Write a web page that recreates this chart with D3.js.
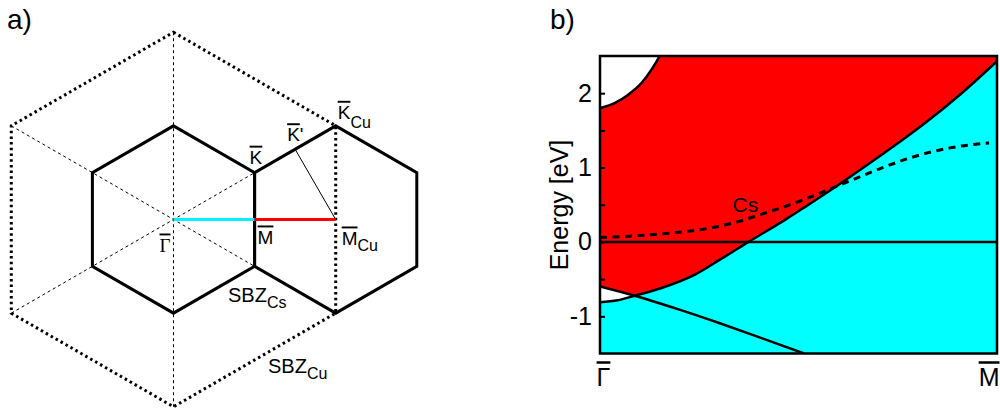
<!DOCTYPE html>
<meta charset="utf-8">
<style>
  body { margin: 0; background: #fff; }
  svg text { font-family: "Liberation Sans", Arial, sans-serif; fill: #000; }
  .ov { text-decoration: overline; }
  .serif { font-family: "Liberation Serif", "DejaVu Serif", serif; }
</style>
<svg width="1000" height="413"></svg>
<script src="https://cdnjs.cloudflare.com/ajax/libs/d3/7.8.5/d3.min.js"></script>
<script>

// ---- panel a) : surface Brillouin zones, units of |Gamma-M| of the Cs zone
var csZone  = [[0, 1.155], [1, 0.577], [1, -0.577], [0, -1.155], [-1, -0.577], [-1, 0.577]];
var csZone2 = [[2, 1.155], [3, 0.577], [3, -0.577], [2, -1.155], [1, -0.577], [1, 0.577]];
var cuZone  = [[0, 2.309], [2, 1.155], [2, -1.155], [0, -2.309], [-2, -1.155], [-2, 1.155]];
var cuDiagonals = [
  [[0, 2.309], [0, -2.309]],
  [[-2, 1.155], [2, -1.155]],
  [[-2, -1.155], [2, 1.155]]
];
var pathGM   = [[0, 0], [1, 0]];
var pathMMcu = [[1, 0], [2, 0]];
var pathKpM  = [[1.5, 0.866], [2, 0]];
// label, subscript, k-point, pixel offset of the label
var zoneLabels = [
  {t: "Γ", sub: "", p: [0, 0], dx: -14, dy: 32, serif: true},
  {t: "M", sub: "", p: [1, 0], dx: 3, dy: 24},
  {t: "M", sub: "Cu", p: [2, 0], dx: 6, dy: 25},
  {t: "K", sub: "", p: [1, 0.577], dx: -5, dy: -9},
  {t: "K", sub: "", prime: true, p: [1.5, 0.866], dx: -8, dy: -8},
  {t: "K", sub: "Cu", p: [2, 1.155], dx: 2, dy: -7}
];

// ---- panel b) : band structure along Gamma-M, k as fraction of Gamma-M
var bulkEdge = [[0, -0.81], [0.044, -0.785], [0.088, -0.723], [0.155, -0.62], [0.239, -0.44],
                [0.3, -0.245], [0.374, 0], [0.47, 0.31], [0.515, 0.465], [0.589, 0.725],
                [0.68, 1.06], [0.743, 1.3], [0.814, 1.58], [0.911, 2.0], [1, 2.43]];
var upperEdge = [[0, 1.8], [0.038, 1.87], [0.071, 1.98], [0.105, 2.14], [0.13, 2.32], [0.151, 2.51], [0.16, 2.62]];
var lowerBand = [[0, -0.597], [0.088, -0.723], [0.2, -0.91], [0.3, -1.09], [0.4, -1.28], [0.514, -1.5]];
var csBand = [[0, 0.06], [0.084, 0.08], [0.168, 0.115], [0.252, 0.165], [0.336, 0.255], [0.411, 0.38],
              [0.504, 0.55], [0.588, 0.73], [0.689, 0.95], [0.781, 1.13], [0.882, 1.265], [0.98, 1.33]];
var yTicks = [-1, -0.5, 0, 0.5, 1, 1.5, 2];
var xTicks = [0, 1];
var xTickNames = ["Γ", "M"];

var svg = d3.select("svg");

// ================= panel a
var ga = svg.append("g");
var kx = d3.scaleLinear().domain([0, 1]).range([173.5, 254.6]);
var ky = d3.scaleLinear().domain([0, 1]).range([219.5, 138.4]);
var kline = d3.line().x(function(d) { return kx(d[0]); }).y(function(d) { return ky(d[1]); });

ga.selectAll(".diag").data(cuDiagonals).enter().append("path")
    .attr("d", kline).attr("fill", "none").attr("stroke", "#000")
    .attr("stroke-width", 1).attr("stroke-dasharray", "3,3");

ga.append("path").attr("d", kline(cuZone) + "Z")
    .attr("fill", "none").attr("stroke", "#000").attr("stroke-width", 3).attr("stroke-dasharray", "2.5,3.2");

[csZone, csZone2].forEach(function(z) {
  ga.append("path").attr("d", kline(z) + "Z")
      .attr("fill", "none").attr("stroke", "#000").attr("stroke-width", 3).attr("stroke-linejoin", "miter");
});

ga.append("path").attr("d", kline(pathKpM)).attr("stroke", "#000").attr("stroke-width", 1);
ga.append("path").attr("d", kline(pathGM)).attr("stroke", "#00f0ff").attr("stroke-width", 3);
ga.append("path").attr("d", kline(pathMMcu)).attr("stroke", "#ff0000").attr("stroke-width", 3);

zoneLabels.forEach(function(l) {
  var t = ga.append("text").attr("x", kx(l.p[0]) + l.dx).attr("y", ky(l.p[1]) + l.dy)
      .attr("font-size", 19);
  t.append("tspan").attr("class", "ov" + (l.serif ? " serif" : "")).text(l.t);
  if (l.prime) t.append("tspan").text("'");
  if (l.sub) t.append("tspan").attr("dy", l.p[1] > 1 ? 9 : 6).attr("font-size", 16).text(l.sub);
});

function zoneName(x, y, sub) {
  var t = ga.append("text").attr("x", x).attr("y", y).attr("font-size", 20);
  t.append("tspan").text("SBZ");
  t.append("tspan").attr("dy", 6).attr("font-size", 16).text(sub);
}
zoneName(228, 302, "Cs");
zoneName(268, 373, "Cu");

svg.append("text").attr("x", 7).attr("y", 29).attr("font-size", 28).text("a)");
svg.append("text").attr("x", 550).attr("y", 29).attr("font-size", 28).text("b)");

// ================= panel b
var x = d3.scaleLinear().domain([0, 1]).range([600, 997]);
var y = d3.scaleLinear().domain([-1.5, 2.5]).range([353.5, 56]);
var gb = svg.append("g");

var defs = svg.append("defs");
defs.append("clipPath").attr("id", "plot")
  .append("rect").attr("x", x(0)).attr("y", y(2.5)).attr("width", x(1) - x(0)).attr("height", y(-1.5) - y(2.5));

var below = d3.area().curve(d3.curveMonotoneX)
    .x(function(d) { return x(d[0]); }).y0(y(-1.6)).y1(function(d) { return y(d[1]); });
defs.append("clipPath").attr("id", "lens").append("path").attr("d", below(lowerBand));

var pg = gb.append("g").attr("clip-path", "url(#plot)");

pg.append("rect").attr("x", x(0)).attr("y", y(2.5)).attr("width", x(1) - x(0)).attr("height", y(-1.5) - y(2.5))
    .attr("fill", "#00ffff");

var above = d3.area().curve(d3.curveMonotoneX)
    .x(function(d) { return x(d[0]); }).y0(function(d) { return y(d[1]); }).y1(y(2.7));
pg.append("path").attr("d", above(bulkEdge)).attr("fill", "#ff0000");
pg.append("path").attr("d", above(upperEdge)).attr("fill", "#fff");

var lensPts = bulkEdge.filter(function(d) { return d[0] <= 0.088; });
var lensArea = d3.area().curve(d3.curveMonotoneX)
    .x(function(d) { return x(d[0]); }).y0(function(d) { return y(d[1]); }).y1(y(-0.4));
pg.append("g").attr("clip-path", "url(#lens)")
  .append("path").attr("d", lensArea(lensPts)).attr("fill", "#fff");

var line = d3.line().curve(d3.curveMonotoneX)
    .x(function(d) { return x(d[0]); }).y(function(d) { return y(d[1]); });

[bulkEdge, upperEdge, lowerBand].forEach(function(b) {
  pg.append("path").attr("d", line(b)).attr("fill", "none").attr("stroke", "#000").attr("stroke-width", 2.5);
});

pg.append("line").attr("x1", x(0)).attr("x2", x(1)).attr("y1", y(0)).attr("y2", y(0))
    .attr("stroke", "#000").attr("stroke-width", 2.5);

pg.append("path").attr("d", line(csBand)).attr("fill", "none").attr("stroke", "#000")
    .attr("stroke-width", 3).attr("stroke-dasharray", "7,5.5");

gb.append("text").attr("x", x(0.334)).attr("y", y(0.4)).attr("font-size", 21).text("Cs");

// axes
var yAxis = d3.axisLeft(y).tickValues(yTicks).tickSize(-5).tickPadding(8)
    .tickFormat(function(d) { return d % 1 === 0 ? String(d) : ""; });
var ya = gb.append("g").attr("transform", "translate(" + x(0) + ",0)").call(yAxis);
ya.select(".domain").remove();
ya.selectAll("line").attr("stroke", "#000").attr("stroke-width", 2);
ya.selectAll("text").attr("font-size", 25).attr("font-family", "Liberation Sans, Arial, sans-serif");

var xAxis = d3.axisBottom(x).tickValues(xTicks).tickSize(0).tickPadding(15)
    .tickFormat(function(d, i) { return xTickNames[i]; });
var xa = gb.append("g").attr("transform", "translate(0," + y(-1.5) + ")").call(xAxis);
xa.select(".domain").remove();
xa.selectAll("text").attr("font-size", 25).attr("class", "ov")
    .attr("font-family", function(d, i) { return i === 0 ? "Liberation Serif, serif" : "Liberation Sans, Arial, sans-serif"; })
    .attr("text-anchor", function(d, i) { return i === 0 ? "middle" : "end"; })
    .attr("dx", function(d, i) { return i === 0 ? 3 : 2; });

gb.append("text").attr("transform", "translate(568," + 205 + ") rotate(-90)")
    .attr("text-anchor", "middle").attr("font-size", 25).text("Energy [eV]");

gb.append("rect").attr("x", x(0)).attr("y", y(2.5)).attr("width", x(1) - x(0)).attr("height", y(-1.5) - y(2.5))
    .attr("fill", "none").attr("stroke", "#000").attr("stroke-width", 2.5);

</script>
